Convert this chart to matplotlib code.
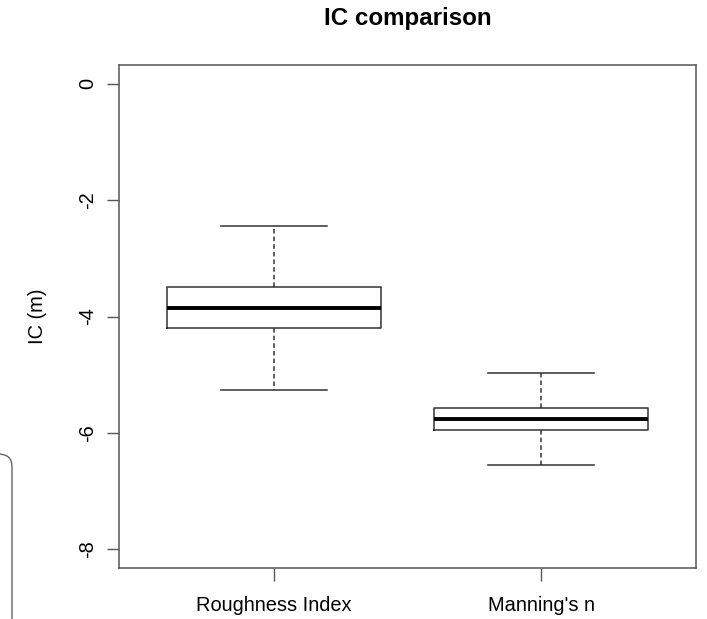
import matplotlib.pyplot as plt
from matplotlib.patches import FancyBboxPatch

# box statistics
groups = ["Roughness Index", "Manning's n"]
whisker_low = [-5.27, -6.55]
q1 = [-4.19, -5.95]
median = [-3.86, -5.76]
q3 = [-3.50, -5.57]
whisker_high = [-2.45, -4.97]
yticks = [0, -2, -4, -6, -8]

plt.rcParams['font.family'] = ['Liberation Sans', 'DejaVu Sans']

fig = plt.figure(figsize=(7.07, 6.19), dpi=100)
ax = fig.add_axes([119 / 707, 51 / 619, 577 / 707, 503 / 619])

stats = []
for i, name in enumerate(groups):
    stats.append(dict(label=name, whislo=whisker_low[i], q1=q1[i], med=median[i],
                      q3=q3[i], whishi=whisker_high[i], fliers=[]))

edge = '#333333'
ax.bxp(stats, positions=[1, 2], widths=0.8, showfliers=False,
       boxprops=dict(color=edge, linewidth=1.1),
       medianprops=dict(color='black', linewidth=2.8, solid_capstyle='butt'),
       whiskerprops=dict(color=edge, linewidth=1.1, linestyle=(0, (3, 2))),
       capprops=dict(color=edge, linewidth=1.1),
       capwidths=0.4)

ax.set_xlim(0.42, 2.58)
ax.set_ylim(-8.32, 0.32)
ax.set_yticks(yticks)
ax.set_yticklabels([str(v) for v in yticks], rotation=90, va='center')
ax.set_xticks([1, 2])
ax.set_xticklabels(groups)
ax.tick_params(axis='both', length=9, width=1.0, color='#555555', labelsize=14.4)
ax.tick_params(axis='x', pad=11)
ax.tick_params(axis='y', pad=6.5)
for s in ax.spines.values():
    s.set_color('#555555')
    s.set_linewidth(1.1)

ax.set_ylabel('IC (m)', fontsize=14.4, labelpad=22.5)
ax.set_title('IC comparison', fontsize=17.4, fontweight='bold', pad=28.6)

# rounded corner of a panel visible at the left edge of the screenshot
fig.patches.append(FancyBboxPatch((-100 / 707, -50 / 619), 112 / 707, 215 / 619,
                                  boxstyle='round,pad=0,rounding_size=0.02',
                                  transform=fig.transFigure, fill=False,
                                  edgecolor='#666666', linewidth=1.0))

fig.savefig('out.png', dpi=100)
